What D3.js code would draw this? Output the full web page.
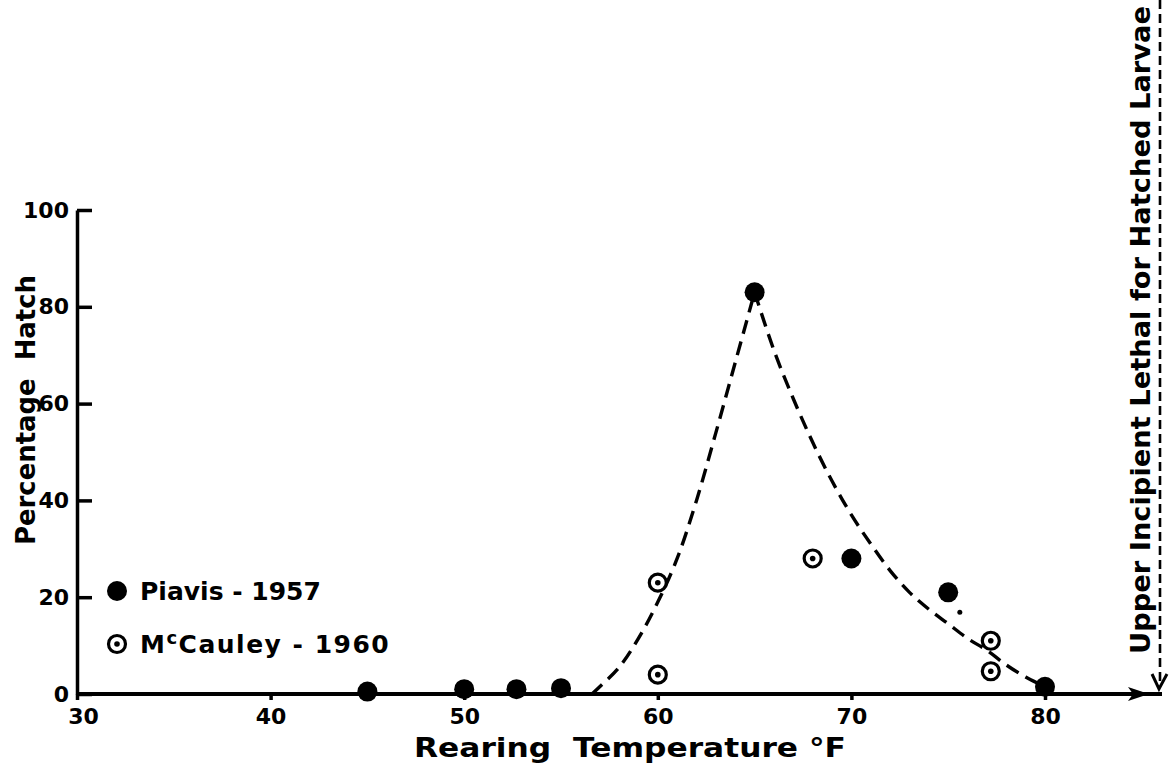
<!DOCTYPE html>
<meta charset="utf-8">
<style>

body {
  margin: 0;
  background: #fff;
}

svg {
  font-family: "DejaVu Sans", sans-serif;
  font-weight: bold;
}

.axis path,
.axis line {
  stroke: #000;
  stroke-width: 3.5;
}

.axis text {
  font-family: "DejaVu Sans", sans-serif;
  font-weight: bold;
  font-size: 22px;
  fill: #000;
}

.curve {
  fill: none;
  stroke: #000;
  stroke-width: 3.4;
  stroke-dasharray: 14, 8;
}

.label {
  fill: #000;
  white-space: pre;
}

</style>
<body>
<script src="https://cdn.jsdelivr.net/npm/d3@7"></script>
<script>

// Piavis 1957 (filled dots)
var piavisTemp  = [45, 50, 52.7, 55, 65, 70, 75, 80];
var piavisHatch = [0.5, 1, 1, 1.2, 83, 28, 21, 1.5];

// McCauley 1960 (ringed dots)
var mccauleyTemp  = [60, 60, 68, 77.2, 77.2];
var mccauleyHatch = [23, 4, 28, 11, 4.7];

// dashed hand-fitted curve (rising and falling branch)
var riseTemp  = [56.6, 57, 58, 59, 60, 61, 62, 63, 64, 65];
var riseHatch = [0, 1.5, 5.5, 11.5, 19, 28, 40, 54, 68.5, 83];
var fallTemp  = [65, 66, 67, 68, 69, 70, 71, 72, 73, 74, 75, 76, 77, 78, 79, 80];
var fallHatch = [83, 71, 61, 52, 44, 37, 31, 25.5, 21, 17.5, 14.5, 11.5, 9, 6, 3.5, 1.5];

// small stray mark next to the 75 F point
var speckTemp = [75.6], speckHatch = [16.9];

var xTicks = [30, 40, 50, 60, 70, 80];
var yTicks = [0, 20, 40, 60, 80, 100];

var width = 1169,
    height = 767;

var x = d3.scaleLinear()
    .domain([30, 80])
    .range([77, 1045]);

var y = d3.scaleLinear()
    .domain([0, 100])
    .range([694, 210]);

var svg = d3.select("body").append("svg")
    .attr("width", width)
    .attr("height", height);

// x axis
var xAxis = d3.axisBottom(x)
    .tickValues(xTicks)
    .tickFormat(d3.format("d"))
    .tickSize(6)
    .tickSizeOuter(0)
    .tickPadding(8);

var gx = svg.append("g")
    .attr("class", "x axis")
    .attr("transform", "translate(0," + y(0) + ")")
    .call(xAxis);

gx.select(".domain").remove();
gx.selectAll(".tick text").attr("dx", function(d) { return d === 30 ? 6 : 0; });

// main horizontal line running out to the arrow
svg.append("line")
    .attr("x1", x(30))
    .attr("x2", 1162)
    .attr("y1", y(0))
    .attr("y2", y(0))
    .attr("stroke", "#000")
    .attr("stroke-width", 3.8);

svg.append("path")
    .attr("d", "M1149," + y(0) + "L1128," + (y(0) - 7) + "L1133," + y(0) + "L1128," + (y(0) + 7) + "Z")
    .attr("fill", "#000");

// y axis
var yAxis = d3.axisLeft(y)
    .tickValues(yTicks)
    .tickSize(-15)
    .tickSizeOuter(0)
    .tickPadding(8);

svg.append("g")
    .attr("class", "y axis")
    .attr("transform", "translate(" + x(30) + ",0)")
    .call(yAxis);

// axis titles
svg.append("text")
    .attr("class", "label")
    .attr("x", 630)
    .attr("y", 757)
    .attr("text-anchor", "middle")
    .attr("textLength", 432)
    .attr("lengthAdjust", "spacingAndGlyphs")
    .style("font-size", "27px")
    .text("Rearing  Temperature °F");

svg.append("text")
    .attr("class", "label")
    .attr("transform", "translate(35,410) rotate(-90)")
    .attr("text-anchor", "middle")
    .attr("textLength", 270)
    .attr("lengthAdjust", "spacingAndGlyphs")
    .style("font-size", "27px")
    .text("Percentage  Hatch");

// upper incipient lethal line
svg.append("text")
    .attr("class", "label")
    .attr("transform", "translate(1150,330) rotate(-90)")
    .attr("text-anchor", "middle")
    .attr("textLength", 648)
    .attr("lengthAdjust", "spacingAndGlyphs")
    .style("font-size", "26px")
    .text("Upper Incipient Lethal for Hatched Larvae");

svg.append("line")
    .attr("x1", 1160)
    .attr("x2", 1160)
    .attr("y1", 0)
    .attr("y2", 686)
    .attr("stroke", "#000")
    .attr("stroke-width", 2.6)
    .attr("stroke-dasharray", "9,5");

svg.append("path")
    .attr("d", "M1152,674L1159,689L1167,674")
    .attr("fill", "none")
    .attr("stroke", "#000")
    .attr("stroke-width", 3);

// dashed curve, drawn as two branches to keep the sharp peak
var line = d3.line()
    .x(function(d) { return x(d[0]); })
    .y(function(d) { return y(d[1]); })
    .curve(d3.curveCatmullRom);

svg.append("path")
    .attr("class", "curve")
    .attr("d", line(riseTemp.map(function(t, i) { return [t, riseHatch[i]]; })));

svg.append("path")
    .attr("class", "curve")
    .attr("d", line(fallTemp.map(function(t, i) { return [t, fallHatch[i]]; })));

// data points
var piavis = piavisTemp.map(function(t, i) { return {t: t, h: piavisHatch[i]}; });
var mccauley = mccauleyTemp.map(function(t, i) { return {t: t, h: mccauleyHatch[i]}; });

svg.selectAll(".piavis")
    .data(piavis)
  .enter().append("circle")
    .attr("class", "piavis")
    .attr("cx", function(d) { return x(d.t); })
    .attr("cy", function(d) { return y(d.h); })
    .attr("r", 10)
    .attr("fill", "#000");

var ring = svg.selectAll(".mccauley")
    .data(mccauley)
  .enter().append("g")
    .attr("class", "mccauley")
    .attr("transform", function(d) { return "translate(" + x(d.t) + "," + y(d.h) + ")"; });

ring.append("circle")
    .attr("r", 8.5)
    .attr("fill", "#fff")
    .attr("stroke", "#000")
    .attr("stroke-width", 3.2);

ring.append("circle")
    .attr("r", 2.8)
    .attr("fill", "#000");

svg.selectAll(".speck")
    .data(speckTemp)
  .enter().append("circle")
    .attr("class", "speck")
    .attr("cx", function(d) { return x(d); })
    .attr("cy", function(d, i) { return y(speckHatch[i]); })
    .attr("r", 2.5)
    .attr("fill", "#000");

// legend
var legend = svg.append("g")
    .attr("transform", "translate(117,0)");

legend.append("circle")
    .attr("cy", 591)
    .attr("r", 10)
    .attr("fill", "#000");

legend.append("text")
    .attr("class", "label")
    .attr("x", 23)
    .attr("y", 600)
    .style("font-size", "25px")
    .text("Piavis - 1957");

legend.append("circle")
    .attr("cy", 644)
    .attr("r", 8.5)
    .attr("fill", "#fff")
    .attr("stroke", "#000")
    .attr("stroke-width", 3.2);

legend.append("circle")
    .attr("cy", 644)
    .attr("r", 2.8)
    .attr("fill", "#000");

var mc = legend.append("text")
    .attr("class", "label")
    .attr("x", 23)
    .attr("y", 653)
    .style("font-size", "25px")
    .style("letter-spacing", "1.5px");

mc.append("tspan").text("M");
mc.append("tspan").attr("dy", -9).style("font-size", "18px").text("c");
mc.append("tspan").attr("dy", 9).text("Cauley - 1960");

</script>
